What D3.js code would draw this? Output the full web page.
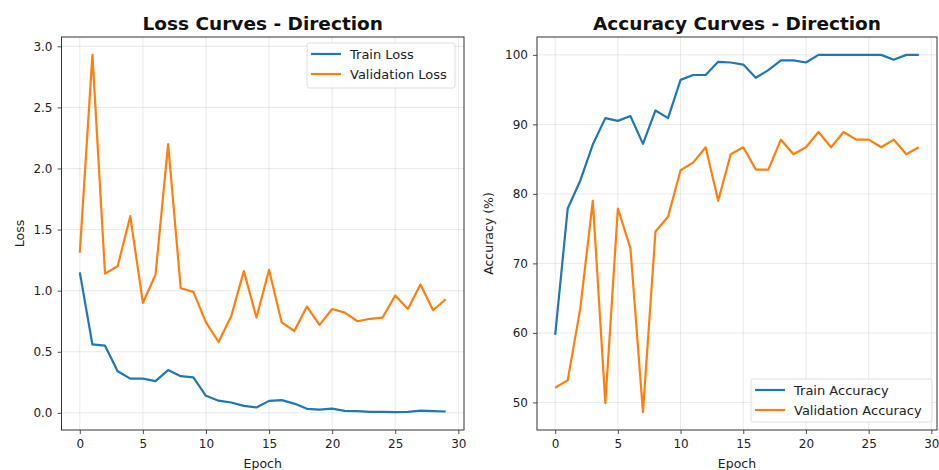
<!DOCTYPE html>
<html><head><meta charset="utf-8">
<script src="https://cdn.jsdelivr.net/npm/d3@7"></script>
<style>
body{margin:0;background:#fff;}
svg{display:block;font-family:"DejaVu Sans",sans-serif;}
</style></head>
<body><svg id="c" width="939" height="470"></svg>
<script>
const epochs = d3.range(0, 30);
const trainLoss = [1.15,0.56,0.55,0.34,0.28,0.28,0.26,0.35,0.30,0.29,0.14,0.10,0.085,0.057,0.044,0.098,0.104,0.076,0.033,0.027,0.035,0.016,0.014,0.008,0.008,0.006,0.008,0.019,0.014,0.011];
const valLoss = [1.31,2.93,1.14,1.20,1.61,0.90,1.13,2.20,1.02,0.99,0.74,0.58,0.79,1.16,0.78,1.17,0.74,0.67,0.87,0.72,0.85,0.82,0.75,0.77,0.78,0.96,0.85,1.05,0.84,0.93];
const trainAcc = [59.7,77.9,81.9,87.1,90.9,90.5,91.2,87.2,92.0,90.9,96.4,97.1,97.1,99.0,98.9,98.6,96.7,97.8,99.2,99.2,98.9,100,100,100,100,100,100,99.3,100,100];
const valAcc = [52.1,53.2,63.5,79.0,49.9,77.9,72.2,48.6,74.6,76.7,83.4,84.5,86.7,79.0,85.7,86.7,83.5,83.5,87.8,85.7,86.7,88.9,86.7,88.9,87.8,87.8,86.7,87.8,85.7,86.7];
const xTicks = [0,5,10,15,20,25,30];
const lossTicks = [0.0,0.5,1.0,1.5,2.0,2.5,3.0];
const accTicks = [50,60,70,80,90,100];
const titles = ["Loss Curves - Direction","Accuracy Curves - Direction"];
const yLabels = ["Loss","Accuracy (%)"];
const lossNames = ["Train Loss","Validation Loss"];
const accNames = ["Train Accuracy","Validation Accuracy"];
const colors = ["#1f77b4","#ff7f0e"];

const svg = d3.select("#c");
function pad(ext){const r=ext[1]-ext[0];return [ext[0]-0.05*r, ext[1]+0.05*r];}

function panel(o){
  const g = svg.append("g");
  const x = d3.scaleLinear().domain(pad([0,29])).range([o.x0,o.x1]);
  const all = o.series.flat();
  const y = d3.scaleLinear().domain(pad(d3.extent(all))).range([o.y1,o.y0]);
  // grid
  g.append("g").selectAll("line").data(xTicks).join("line")
    .attr("x1",d=>x(d)).attr("x2",d=>x(d)).attr("y1",o.y0).attr("y2",o.y1)
    .attr("stroke","#b0b0b0").attr("stroke-opacity",0.35).attr("stroke-width",0.8);
  g.append("g").selectAll("line").data(o.yTicks).join("line")
    .attr("y1",d=>y(d)).attr("y2",d=>y(d)).attr("x1",o.x0).attr("x2",o.x1)
    .attr("stroke","#b0b0b0").attr("stroke-opacity",0.35).attr("stroke-width",0.8);
  // lines
  const line = d3.line().x((d,i)=>x(epochs[i])).y(d=>y(d));
  o.series.forEach((s,k)=>{
    g.append("path").datum(s).attr("d",line).attr("fill","none")
      .attr("stroke",colors[k]).attr("stroke-width",2.2).attr("stroke-linejoin","round");
  });
  // axes
  const xa = g.append("g").attr("transform",`translate(0,${o.y1})`)
    .call(d3.axisBottom(x).tickValues(xTicks).tickSize(4).tickPadding(5).tickFormat(d3.format("d")));
  const ya = g.append("g").attr("transform",`translate(${o.x0},0)`)
    .call(d3.axisLeft(y).tickValues(o.yTicks).tickSize(4).tickPadding(5).tickFormat(o.fmt));
  [xa,ya].forEach(a=>{
    a.select(".domain").remove();
    a.selectAll("text").attr("font-size",12).attr("fill","#222").attr("font-family","DejaVu Sans");
    a.selectAll("line").attr("stroke","#222").attr("stroke-width",0.8);
  });
  // frame
  g.append("rect").attr("x",o.x0).attr("y",o.y0).attr("width",o.x1-o.x0).attr("height",o.y1-o.y0)
    .attr("fill","none").attr("stroke","#333").attr("stroke-width",1);
  // title
  g.append("text").attr("x",(o.x0+o.x1)/2).attr("y",30).attr("text-anchor","middle")
    .attr("font-size",18.5).attr("font-weight","bold").attr("fill","#111").text(o.title);
  g.append("text").attr("x",(o.x0+o.x1)/2).attr("y",468).attr("text-anchor","middle")
    .attr("font-size",12.5).attr("fill","#222").text("Epoch");
  g.append("text").attr("transform",`translate(${o.ylx},${(o.y0+o.y1)/2}) rotate(-90)`)
    .attr("text-anchor","middle").attr("font-size",12.5).attr("fill","#222").text(o.ylabel);
  // legend
  const L = o.legend;
  const lg = g.append("g");
  lg.append("rect").attr("x",L.x).attr("y",L.y).attr("width",L.w).attr("height",L.h)
    .attr("rx",2).attr("fill","#fff").attr("fill-opacity",0.8).attr("stroke","#d6d6d6").attr("stroke-width",0.8);
  o.names.forEach((n,k)=>{
    const cy = L.y+11+k*20;
    lg.append("line").attr("x1",L.x+4).attr("x2",L.x+34).attr("y1",cy).attr("y2",cy)
      .attr("stroke",colors[k]).attr("stroke-width",2.2);
    lg.append("text").attr("x",L.x+43).attr("y",cy+4.5).attr("font-size",13).attr("fill","#222").text(n);
  });
}

panel({x0:61.5,x1:464,y0:37,y1:430,series:[trainLoss,valLoss],yTicks:lossTicks,fmt:d3.format(".1f"),
  title:titles[0],ylabel:yLabels[0],ylx:24,names:lossNames,legend:{x:307,y:43,w:148,h:45}});
panel({x0:537,x1:937,y0:37,y1:430,series:[trainAcc,valAcc],yTicks:accTicks,fmt:d3.format("d"),
  title:titles[1],ylabel:yLabels[1],ylx:493,names:accNames,legend:{x:751,y:379,w:181,h:43}});
</script></body></html>
